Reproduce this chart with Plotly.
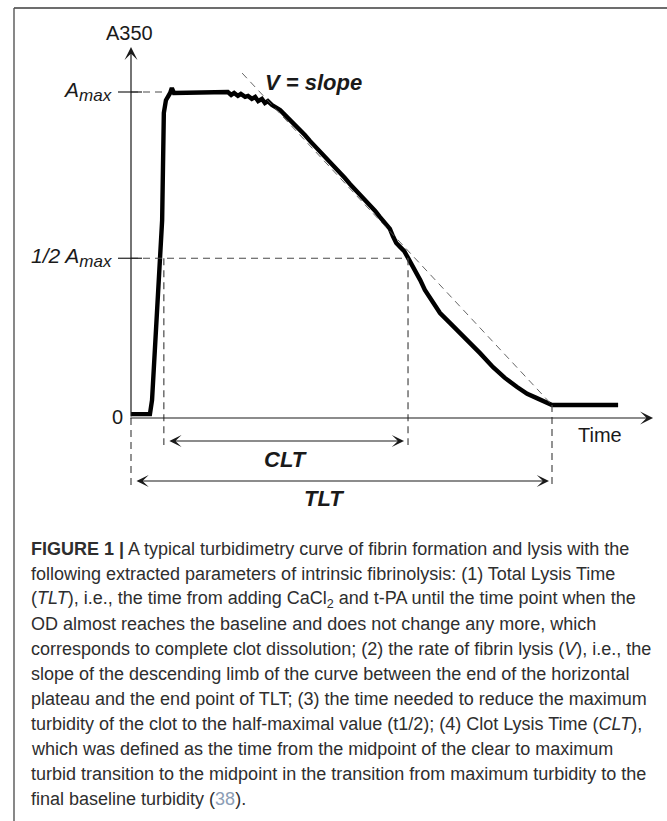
import plotly.graph_objects as go

# ---------------- data ----------------
time_units = [0.0, 4.5, 5.0, 5.7, 6.9, 7.4, 7.8, 8.3, 9.3, 9.7, 10.2, 21.4,
              22.3, 23.0, 23.8, 24.5, 25.4, 26.1, 27.1, 27.8, 28.7, 29.5,
              30.2, 31.1, 31.8, 32.5, 33.5, 34.4, 35.4, 36.6, 37.8, 39.0,
              40.1, 41.3, 42.5, 43.7, 44.9, 46.1, 47.3, 48.5, 49.6, 50.8,
              52.0, 53.2, 54.4, 55.6, 56.8, 58.0, 59.1, 60.3, 61.5, 62.2,
              63.0, 63.9, 64.9, 65.8, 67.2, 68.7, 69.8, 71.0, 72.2, 73.4,
              75.8, 77.7, 79.8, 82.9, 86.0, 88.8, 91.7, 94.1, 96.4, 98.3,
              100.0, 115.7]
a350 = [0.012, 0.012, 0.055, 0.218, 0.494, 0.607, 0.936, 0.975, 0.997, 1.012, 0.997, 1.000,
        0.997, 1.000, 0.991, 0.997, 0.988, 0.994, 0.985, 0.988, 0.979, 0.985,
        0.972, 0.979, 0.966, 0.972, 0.960, 0.954, 0.945, 0.929, 0.914, 0.899,
        0.883, 0.868, 0.850, 0.834, 0.819, 0.801, 0.785, 0.770, 0.752, 0.736,
        0.718, 0.702, 0.684, 0.669, 0.650, 0.635, 0.617, 0.598, 0.580, 0.558,
        0.537, 0.525, 0.512, 0.491, 0.460, 0.423, 0.393, 0.371, 0.344, 0.322,
        0.291, 0.267, 0.239, 0.199, 0.156, 0.123, 0.095, 0.074, 0.061, 0.049,
        0.040, 0.040]

A_MAX = 1.0
A_HALF = 0.49
T_CLT_START = 7.8
T_CLT_END = 65.8
T_TLT_END = 100.0
A_FINAL = 0.040
slope_t = [26.4, 100.0]
slope_a = [1.058, 0.040]
T_AXIS = [-0.5, 124.0]
A_AXIS_TOP = 1.138

y_axis_title = "A350"
x_axis_title = "Time"
slope_label = "V = slope"
clt_label = "CLT"
tlt_label = "TLT"
zero_label = "0"

caption_lines = [
    "<b>FIGURE 1 |</b> A typical turbidimetry curve of fibrin formation and lysis with the",
    "following extracted parameters of intrinsic fibrinolysis: (1) Total Lysis Time",
    "(<i>TLT</i>), i.e., the time from adding CaCl<sub>2</sub> and t-PA until the time point when the",
    "OD almost reaches the baseline and does not change any more, which",
    "corresponds to complete clot dissolution; (2) the rate of fibrin lysis (<i>V</i>), i.e., the",
    "slope of the descending limb of the curve between the end of the horizontal",
    "plateau and the end point of TLT; (3) the time needed to reduce the maximum",
    "turbidity of the clot to the half-maximal value (t1/2); (4) Clot Lysis Time (<i>CLT</i>),",
    "which was defined as the time from the midpoint of the clear to maximum",
    "turbid transition to the midpoint in the transition from maximum turbidity to the",
    "final baseline turbidity (<span style='color:#8c9db5'>38</span>).",
]

# ---------------- layout geometry (style) ----------------
W, H = 667, 821
X0_PX, PX_PER_T = 131, 4.21
Y0_PX, PX_PER_A = 418, 326.0


def dt(px):
    return px / PX_PER_T


def da(px):
    return px / PX_PER_A


FONT = "Liberation Sans, Arial, sans-serif"
DASH_COL = "#4a4a4a"
DASH = "7px,5px"

fig = go.Figure()

# main curve
fig.add_trace(go.Scatter(x=time_units, y=a350, mode="lines",
                         line=dict(color="#000000", width=4.4), hoverinfo="skip"))


def dashed(xs, ys, width=1.2, col=DASH_COL):
    fig.add_trace(go.Scatter(x=xs, y=ys, mode="lines",
                             line=dict(color=col, width=width, dash=DASH), hoverinfo="skip"))


dashed([0, T_CLT_START + dt(1)], [A_MAX, A_MAX])
dashed([0, T_CLT_END], [A_HALF, A_HALF])
dashed([T_CLT_START, T_CLT_START], [A_HALF, -da(27)])
dashed([T_CLT_END, T_CLT_END], [A_HALF, -da(27)])
dashed([0, 0], [0, -da(69)])
dashed([T_TLT_END, T_TLT_END], [A_FINAL, -da(69)])
dashed(slope_t, slope_a, width=0.9, col="#555555")

# tick marks on the y axis
for lvl in (A_MAX, A_HALF):
    fig.add_trace(go.Scatter(x=[-dt(13), dt(11)], y=[lvl, lvl], mode="lines",
                             line=dict(color="#222222", width=1.2), hoverinfo="skip"))

ann = []
# axes with arrows
ann.append(dict(x=0, y=A_AXIS_TOP, ax=0, ay=0, axref="x", ayref="y", xref="x", yref="y",
                text="", showarrow=True, arrowhead=3, arrowsize=1.8, arrowwidth=1.2,
                arrowcolor="#1a1a1a"))
ann.append(dict(x=T_AXIS[1], y=0, ax=T_AXIS[0], ay=0, axref="x", ayref="y", xref="x", yref="y",
                text="", showarrow=True, arrowhead=3, arrowsize=1.8, arrowwidth=1.2,
                arrowcolor="#1a1a1a"))
# CLT / TLT double arrows
ann.append(dict(x=T_CLT_END, y=-da(23), ax=T_CLT_START, ay=-da(23), axref="x", ayref="y",
                xref="x", yref="y", text="", showarrow=True, arrowhead=3, arrowside="end+start",
                arrowsize=1.7, arrowwidth=1.2, arrowcolor="#1a1a1a", standoff=4, startstandoff=4))
ann.append(dict(x=T_TLT_END, y=-da(63), ax=0, ay=-da(63), axref="x", ayref="y",
                xref="x", yref="y", text="", showarrow=True, arrowhead=3, arrowside="end+start",
                arrowsize=1.7, arrowwidth=1.2, arrowcolor="#1a1a1a", standoff=3, startstandoff=4))


def label(x, y, text, size, xanchor="center", yanchor="middle", xshift=0, yshift=0,
          color="#1a1a1a", font=FONT):
    ann.append(dict(x=x, y=y, xref="x", yref="y", text=text, showarrow=False,
                    xanchor=xanchor, yanchor=yanchor, xshift=xshift, yshift=yshift,
                    font=dict(family=font, size=size, color=color)))


label(0, A_AXIS_TOP, y_axis_title, 20, yanchor="bottom", xshift=-2, yshift=1)
label(T_AXIS[1], 0, x_axis_title, 20, xshift=-53, yshift=-17)
label(0, 0, zero_label, 20, xanchor="right", xshift=-6, yshift=1)
label(0, A_MAX, "<i>A<sub><span style='font-size:17px'>max</span></sub></i>", 21,
      xanchor="right", xshift=-17, yshift=1)
label(0, A_HALF, "<i>1/2 A<sub><span style='font-size:17px'>max</span></sub></i>", 21,
      xanchor="right", xshift=-17, yshift=1)
label(slope_t[0], slope_a[0], "<b><i>" + slope_label + "</i></b>", 22,
      xanchor="left", xshift=21, yshift=-9)
label((T_CLT_START + T_CLT_END) / 2, -da(23), "<b><i>" + clt_label + "</i></b>", 22,
      yshift=-18)
label(T_TLT_END / 2, -da(63), "<b><i>" + tlt_label + "</i></b>", 22,
      xshift=-18, yshift=-17)

# caption lines
for i, line in enumerate(caption_lines):
    ann.append(dict(x=29 / W, y=1 - (549 + 25 * i) / H, xref="paper", yref="paper",
                    text=line, showarrow=False, xanchor="left", yanchor="middle",
                    font=dict(family=FONT, size=18, color="#2e2e2e")))

shapes = [
    dict(type="line", xref="paper", yref="paper", x0=14 / W, x1=1, y0=1 - 8 / H, y1=1 - 8 / H,
         line=dict(color="#3c3c3c", width=1.6)),
    dict(type="line", xref="paper", yref="paper", x0=14 / W, x1=14 / W, y0=0, y1=1 - 8 / H,
         line=dict(color="#555555", width=1.4)),
]

fig.update_layout(
    width=W, height=H, margin=dict(l=0, r=0, t=0, b=0),
    paper_bgcolor="white", plot_bgcolor="white", showlegend=False,
    xaxis=dict(range=[-X0_PX / PX_PER_T, (W - X0_PX) / PX_PER_T], visible=False, fixedrange=True),
    yaxis=dict(range=[-(H - Y0_PX) / PX_PER_A, Y0_PX / PX_PER_A], visible=False, fixedrange=True),
    annotations=ann, shapes=shapes,
)

fig.write_html("out.html", config={"displayModeBar": False},
               post_script="document.body.style.margin='0';document.body.style.overflow='hidden';")
